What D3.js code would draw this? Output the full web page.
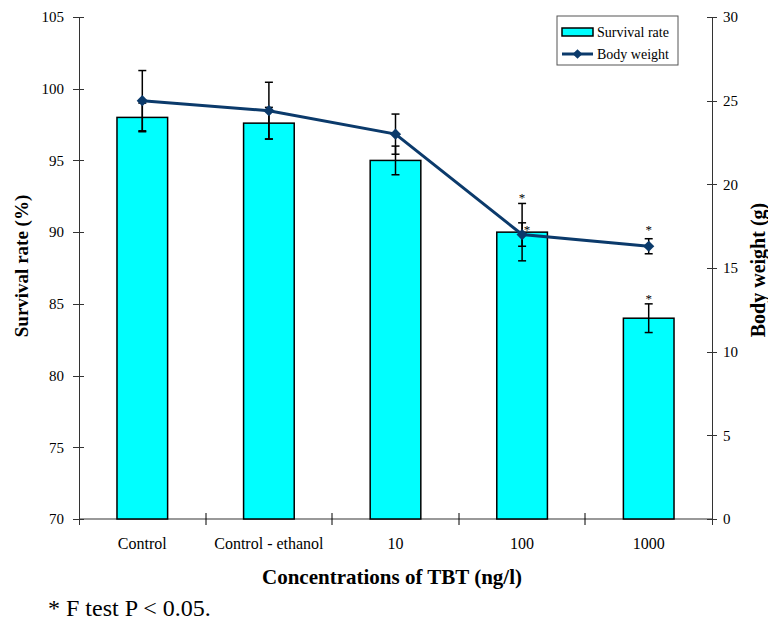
<!DOCTYPE html>
<html lang="en">
<head>
<meta charset="UTF-8">
<title>TBT survival and body weight</title>
<script src="https://cdn.jsdelivr.net/npm/d3@7/dist/d3.min.js"></script>
<style>
    body { margin:0; background:#fff; }
    svg text { font-family: "Liberation Serif", "Times New Roman", serif; fill:#000; }
    .axis path, .axis line { fill:none; stroke:#333; shape-rendering:crispEdges; }
    .axis text { font-size:15px; }
</style>
</head>
<body>
<script>
    // data
    var categories = ["Control", "Control - ethanol", "10", "100", "1000"];
    var survival = [98, 97.6, 95, 90, 84];
    var survivalErr = [1.0, 1.1, 1.0, 2.0, 1.0];
    var bodyWeight = [25, 24.4, 23, 17, 16.3];
    var bodyWeightErr = [1.8, 1.7, 1.2, 0.7, 0.45];
    var survivalSig = [false, false, false, true, true];
    var bodyWeightSig = [false, false, false, true, true];
    var leftTicks = [70, 75, 80, 85, 90, 95, 100, 105];
    var rightTicks = [0, 5, 10, 15, 20, 25, 30];

    var w = 768, h = 621;
    var pLeft = 79, pRight = 712, pTop = 17, pBottom = 519;

    var svg = d3.select("body").append("svg").attr("width", w).attr("height", h);

    var x = d3.scaleBand().domain(categories).range([pLeft, pRight])
        .paddingInner(0.6).paddingOuter(0.3);
    var yL = d3.scaleLinear().domain([70, 105]).range([pBottom, pTop]);
    var yR = d3.scaleLinear().domain([0, 30]).range([pBottom, pTop]);
    var cx = function (c) { return x(c) + x.bandwidth() / 2; };

    // x axis line + category separators
    svg.append("line").attr("x1", pLeft).attr("x2", pRight).attr("y1", pBottom).attr("y2", pBottom)
        .attr("stroke", "#777").attr("stroke-width", 1.5);
    svg.selectAll(".sep").data(categories.slice(0, -1)).enter().append("line")
        .attr("x1", function (d) { return Math.round(cx(d) + x.step() / 2); })
        .attr("x2", function (d) { return Math.round(cx(d) + x.step() / 2); })
        .attr("y1", pBottom - 6).attr("y2", pBottom + 6)
        .attr("stroke", "#000").attr("stroke-width", 1);

    // bars
    svg.selectAll(".bar").data(categories).enter().append("rect")
        .attr("x", function (d) { return x(d); })
        .attr("y", function (d, i) { return yL(survival[i]); })
        .attr("width", x.bandwidth())
        .attr("height", function (d, i) { return pBottom - yL(survival[i]); })
        .attr("fill", "#00ffff").attr("stroke", "#000").attr("stroke-width", 1.5);

    // axes
    var axL = d3.axisLeft(yL).tickValues(leftTicks).tickSize(6).tickPadding(9);
    var gL = svg.append("g").attr("class", "axis").attr("transform", "translate(" + pLeft + ",0)").call(axL);
    gL.selectAll(".tick line").attr("x1", 5);
    gL.select(".domain").attr("d", "M0," + pTop + "V" + (pBottom + 6));

    var axR = d3.axisRight(yR).tickValues(rightTicks).tickSize(5).tickPadding(6);
    var gR = svg.append("g").attr("class", "axis").attr("transform", "translate(" + pRight + ",0)").call(axR);
    gR.selectAll(".tick line").attr("x1", -5);
    gR.select(".domain").attr("d", "M0," + pTop + "V" + (pBottom + 6));

    // error bars
    function errBar(g, xc, yTop, yBot) {
        g.append("line").attr("x1", xc).attr("x2", xc).attr("y1", yTop).attr("y2", yBot)
            .attr("stroke", "#000").attr("stroke-width", 1.5);
        [yTop, yBot].forEach(function (yy) {
            g.append("line").attr("x1", xc - 4).attr("x2", xc + 4).attr("y1", yy).attr("y2", yy)
                .attr("stroke", "#000").attr("stroke-width", 1.5);
        });
    }
    var gErr = svg.append("g");
    categories.forEach(function (c, i) {
        errBar(gErr, cx(c), yL(survival[i] + survivalErr[i]), yL(survival[i] - survivalErr[i]));
        errBar(gErr, cx(c), yR(bodyWeight[i] + bodyWeightErr[i]), yR(bodyWeight[i] - bodyWeightErr[i]));
    });

    // body weight line
    var line = d3.line().x(function (d, i) { return cx(categories[i]); }).y(function (d) { return yR(d); });
    svg.append("path").datum(bodyWeight).attr("d", line)
        .attr("fill", "none").attr("stroke", "#0b3a6b").attr("stroke-width", 3);
    svg.selectAll(".pt").data(bodyWeight).enter().append("path")
        .attr("d", d3.symbol().type(d3.symbolDiamond2).size(80))
        .attr("transform", function (d, i) { return "translate(" + cx(categories[i]) + "," + yR(d) + ")"; })
        .attr("fill", "#0b3a6b");

    // significance stars
    categories.forEach(function (c, i) {
        if (survivalSig[i]) {
            svg.append("text").attr("x", cx(c)).attr("y", yL(survival[i] + survivalErr[i]) - 1)
                .attr("text-anchor", "middle").attr("font-size", "13px").text("*");
        }
        if (bodyWeightSig[i]) {
            var capY = yR(bodyWeight[i] + bodyWeightErr[i]);
            var overlaps = yL(survival[i] + survivalErr[i]) < capY;
            svg.append("text")
                .attr("x", overlaps ? cx(c) + 5 : cx(c))
                .attr("y", overlaps ? capY + 11 : capY - 5)
                .attr("text-anchor", "middle").attr("font-size", "13px").text("*");
        }
    });

    // category labels
    svg.selectAll(".xl").data(categories).enter().append("text")
        .attr("x", cx).attr("y", 549).attr("text-anchor", "middle")
        .attr("font-size", "16px").text(function (d) { return d; });

    // titles
    svg.append("text").attr("x", 392).attr("y", 584).attr("text-anchor", "middle")
        .attr("font-size", "21px").attr("font-weight", "bold").text("Concentrations of TBT (ng/l)");
    svg.append("text").attr("transform", "translate(28,266) rotate(-90)").attr("text-anchor", "middle")
        .attr("font-size", "19px").attr("font-weight", "bold").text("Survival rate (%)");
    svg.append("text").attr("transform", "translate(765,270) rotate(-90)").attr("text-anchor", "middle")
        .attr("font-size", "20px").attr("font-weight", "bold").text("Body weight (g)");
    svg.append("text").attr("x", 48).attr("y", 616).attr("font-size", "24px").text("* F test P < 0.05.");

    // legend
    var lg = svg.append("g");
    lg.append("rect").attr("x", 557).attr("y", 16).attr("width", 121).attr("height", 49)
        .attr("fill", "#fff").attr("stroke", "#555").attr("stroke-width", 1);
    lg.append("rect").attr("x", 562).attr("y", 28).attr("width", 31).attr("height", 8)
        .attr("fill", "#00ffff").attr("stroke", "#000").attr("stroke-width", 1.5);
    lg.append("text").attr("x", 597).attr("y", 37).attr("font-size", "14px").text("Survival rate");
    lg.append("line").attr("x1", 562).attr("x2", 593).attr("y1", 54).attr("y2", 54)
        .attr("stroke", "#0b3a6b").attr("stroke-width", 3);
    lg.append("path").attr("d", d3.symbol().type(d3.symbolDiamond2).size(60))
        .attr("transform", "translate(577.5,54)").attr("fill", "#0b3a6b");
    lg.append("text").attr("x", 597).attr("y", 59).attr("font-size", "14px").text("Body weight");
</script>
</body>
</html>
